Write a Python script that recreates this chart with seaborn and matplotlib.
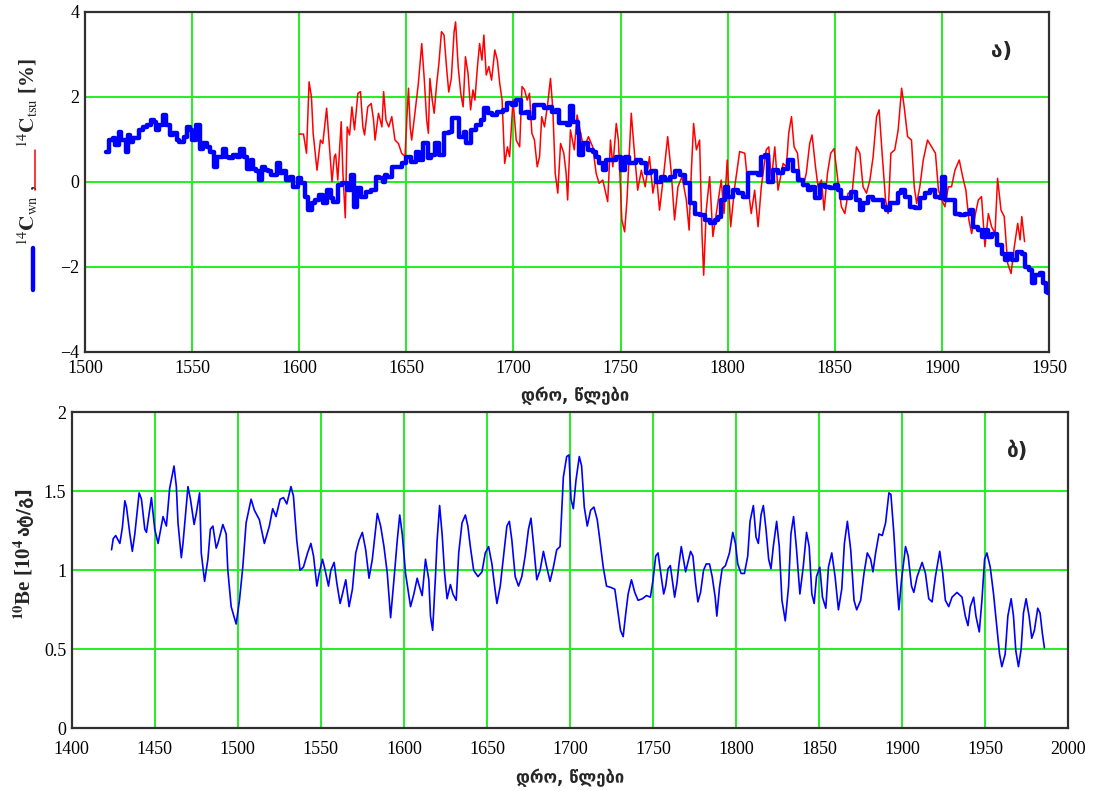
import numpy as np
import pandas as pd
import matplotlib
matplotlib.use("Agg")
import matplotlib.pyplot as plt
from matplotlib.lines import Line2D
import seaborn as sns

# ---------------- data ----------------
# Panel a) 14C wn (blue, thick)
wn_years = [1510, 1511, 1513, 1514, 1516, 1517, 1519, 1520, 1521, 1522.5, 1525, 1527, 1529, 1531,
            1532, 1533, 1534.5, 1536.5, 1537.6, 1539.6, 1541, 1543, 1544, 1546, 1547.4, 1549, 1550,
            1552, 1553.7, 1555, 1556.8, 1558.3, 1560, 1561.4, 1563, 1564.5, 1565.6, 1567, 1569,
            1570.8, 1572.3, 1574, 1575.4, 1577.4, 1578.5, 1580, 1581, 1582.4, 1584, 1585.5, 1587,
            1589.4, 1591, 1592.5, 1594, 1595.6, 1597, 1599.5, 1601, 1602.6, 1604, 1606, 1607.3,
            1609, 1611, 1612.8, 1615, 1616, 1618, 1620, 1622.5, 1624, 1625.7, 1627, 1629, 1631,
            1633.4, 1635.8, 1637.3, 1639, 1640, 1641, 1643.5, 1646, 1648, 1650, 1652, 1654.4,
            1655.7, 1658, 1660, 1661.4, 1663.5, 1665.3, 1667.7, 1670, 1671.5, 1673, 1674.7, 1677,
            1678, 1680, 1682.4, 1684.8, 1686.3, 1687.9, 1690, 1692.5, 1695, 1697, 1699.5, 1701,
            1703.4, 1706, 1707.3, 1709.6, 1712, 1714.3, 1716.6, 1718, 1719.8, 1721.3, 1723, 1725,
            1726.5, 1728, 1730, 1730.5, 1732.4, 1734.7, 1737, 1738.6, 1740, 1741.7, 1743.3, 1745.6,
            1748, 1750, 1752, 1754, 1757.3, 1759.7, 1762, 1764.3, 1766.7, 1769, 1770.6, 1773,
            1775.2, 1777.6, 1780, 1782.2, 1784.6, 1787, 1789.3, 1791.6, 1794, 1795.5, 1797, 1798.6,
            1800, 1802.5, 1804.8, 1807, 1809.5, 1812, 1814, 1815.7, 1817.3, 1818.8, 1821, 1823.5,
            1825.9, 1828.2, 1830.5, 1832.9, 1835.2, 1837.5, 1839, 1840.7, 1843, 1845.3, 1847.7,
            1850, 1851.6, 1853, 1855.5, 1857.8, 1860, 1861.7, 1863.2, 1865.6, 1868, 1870.2, 1872.6,
            1874, 1875.7, 1878, 1879.6, 1881, 1882.7, 1885, 1887.3, 1889.7, 1892, 1894.4, 1896.7,
            1899, 1900, 1901.4, 1903.7, 1906, 1908.4, 1910.7, 1913, 1914.6, 1917, 1918.5, 1920,
            1921.7, 1923.2, 1925.5, 1927.9, 1929.4, 1931, 1932.6, 1935, 1937.2, 1938.8, 1940.7,
            1942, 1943.5, 1945.8, 1947.4, 1948.5, 1949.3]
wn_values = [0.71, 0.98, 1.02, 0.86, 1.16, 0.98, 0.71, 1.10, 0.94, 1.02, 1.22, 1.29, 1.33, 1.45,
             1.41, 1.22, 1.33, 1.57, 1.33, 1.10, 1.14, 0.98, 0.94, 1.06, 1.29, 1.22, 0.98,
             1.33, 0.78, 0.90, 0.82, 0.71, 0.35, 0.59, 0.59, 0.78, 0.59, 0.55, 0.63,
             0.59, 0.78, 0.59, 0.31, 0.51, 0.31, 0.24, 0.04, 0.35, 0.27, 0.24, 0.16,
             0.43, 0.20, 0.24, 0.04, 0.12, -0.12, 0.08, -0.04, -0.35, -0.67, -0.51, -0.43,
             -0.31, -0.51, -0.20, -0.39, -0.47, -0.08, -0.04, -0.20, 0.16, -0.59, -0.16, -0.35, -0.24,
             -0.20, 0.12, 0.08, 0.0, 0.16, 0.12, 0.35, 0.35, 0.43, 0.59, 0.47, 0.71,
             0.51, 0.90, 0.55, 0.63, 0.90, 0.63, 1.14, 1.18, 1.49, 1.49, 1.06, 1.18,
             0.90, 1.22, 1.33, 1.45, 1.73, 1.61, 1.57, 1.65, 1.69, 1.84, 1.80, 1.92,
             1.61, 1.65, 1.49, 1.80, 1.80, 1.73, 1.76, 1.65, 1.69, 1.37, 1.37, 1.33,
             1.78, 1.40, 1.14, 0.63, 0.90, 0.75, 0.71, 0.59, 0.43, 0.27, 0.51, 0.51,
             0.59, 0.27, 0.59, 0.43, 0.51, 0.43, 0.20, 0.24, 0.0, 0.12, 0.04, 0.12,
             0.24, 0.16, -0.04, -0.51, -0.75, -0.78, -0.90, -0.98, -0.90, -0.82, -0.43, -0.12,
             -0.35, -0.20, -0.27, -0.35, 0.20, 0.20, 0.16, 0.59, 0.63, 0.0, 0.27, 0.20,
             0.31, 0.51, 0.24, 0.04, -0.08, -0.20, -0.12, -0.39, -0.08, -0.12, -0.16,
             -0.08, -0.20, -0.39, -0.39, -0.24, -0.43, -0.67, -0.51, -0.35, -0.43, -0.43, -0.59,
             -0.67, -0.51, -0.51, -0.27, -0.20, -0.35, -0.59, -0.63, -0.39, -0.27, -0.20, -0.35,
             -0.39, 0.12, -0.43, -0.43, -0.75, -0.78, -0.75, -0.67, -1.06, -1.14, -1.29, -1.14,
             -1.29, -1.22, -1.49, -1.69, -1.84, -1.69, -1.84, -1.65, -1.69, -2.00, -2.08,
             -2.39, -2.20, -2.16, -2.39, -2.59, -2.61]

# Panel a) 14C tsu (red, thin)
tsu_years = [1600, 1602, 1603.4, 1604.6, 1605.7, 1606.5, 1608.3, 1609.9, 1611, 1612.8, 1614,
             1615.3, 1616.4, 1617, 1618, 1619.6, 1620.4, 1621.5, 1622.4, 1623.5, 1624.6, 1625.8,
             1627.4, 1628.6, 1629.7, 1630.5, 1632, 1633.6, 1634.7, 1635.4, 1637, 1638.6, 1639.4,
             1640.5, 1641.8, 1643.2, 1644.7, 1646.3, 1647.8, 1649.4, 1650.2, 1651, 1651.8, 1652.5,
             1654, 1655.6, 1657.2, 1658.4, 1659.5, 1660.3, 1661, 1662.1, 1663, 1664.1, 1665.2,
             1666.4, 1667.6, 1668.7, 1669.8, 1671, 1672.3, 1673, 1674.2, 1675.4, 1676.5, 1677.6,
             1678.8, 1680, 1681.1, 1682, 1683.2, 1684.2, 1685.3, 1686.2, 1687.3, 1688.5, 1689.8,
             1691.3, 1692.5, 1693.6, 1694.7, 1695.9, 1697.2, 1698.2, 1699.8, 1701.3, 1702.9, 1704,
             1705.2, 1706.4, 1707.5, 1708.6, 1709.8, 1711.1, 1712.2, 1713.2, 1714.5, 1716, 1717.3,
             1718.4, 1719.5, 1720.7, 1722, 1723.5, 1724.6, 1725.3, 1726.6, 1728.4, 1729.7,
             1732, 1733.2, 1735, 1737, 1738.6, 1740, 1741.7, 1744, 1745.3, 1746.4, 1748, 1749,
             1750.6, 1751.9, 1753, 1755, 1756.5, 1758, 1759.7, 1761.5, 1763.5, 1765.1, 1766.7,
             1768.2, 1770.2, 1772, 1773.7, 1775.2, 1776.8, 1778.7, 1780.7, 1782, 1783, 1784.1,
             1785.4, 1786.9, 1788, 1788.8, 1790, 1791.6, 1793.1, 1794.7, 1797, 1798.3, 1799.8,
             1801.4, 1803.3, 1805.6, 1808, 1809.5, 1811, 1812.6, 1814.2, 1815.7, 1818, 1819.2,
             1820.4, 1822, 1823.5, 1825.9, 1827.4, 1828.5, 1829.8, 1831, 1832.6, 1833.6, 1835.2,
             1836.7, 1838.3, 1839.4, 1841, 1842.2, 1843.8, 1845, 1846.6, 1848.1, 1849.7, 1851.6,
             1853.1, 1854.7, 1856.2, 1858.1, 1860.1, 1861.7, 1863.2, 1864.8, 1866.4, 1867.9,
             1869.5, 1870.7, 1872.1, 1873.7, 1874.9, 1876.2, 1878, 1879.6, 1881.2, 1882.4, 1884,
             1885.8, 1887.1, 1888.2, 1889.7, 1891.3, 1893.3, 1895.2, 1897, 1898.4, 1899.9, 1901.4,
             1903, 1904.5, 1906.1, 1908.1, 1909.7, 1911.2, 1912.6, 1913.9, 1915.4, 1917, 1918.5,
             1920.1, 1921.7, 1923.2, 1924.8, 1926, 1927.6, 1929.1, 1930.7, 1932.3, 1933.8, 1935.4,
             1936.5, 1937.3, 1938.6]
tsu_values = [1.12, 1.12, 0.67, 2.35, 2.00, 1.14, 0.27, 0.98, 0.90, 1.73, 0.90,
              0.0, 0.59, 0.65, 0.04, 1.41, 0.19, -0.85, 1.29, 1.10, 1.76, 1.22,
              2.08, 2.12, 1.29, 1.10, 1.76, 1.84, 1.45, 0.98, 1.61, 1.29, 2.12,
              1.45, 1.29, 1.53, 0.98, 0.90, 0.67, 0.59, 1.45, 2.20, 1.29, 0.98,
              1.61, 2.31, 3.25, 2.39, 1.45, 1.14, 2.43, 1.92, 1.61, 2.27, 2.78,
              3.53, 3.45, 2.73, 2.11, 2.43, 3.53, 3.76, 2.71, 2.08, 1.76, 2.94,
              2.55, 1.69, 2.16, 1.92, 2.71, 3.25, 2.86, 3.45, 2.51, 2.71, 2.39,
              3.10, 2.86, 2.31, 1.92, 0.43, 0.82, 0.59, 1.92, 0.98, 0.82, 2.24,
              2.16, 1.92, 2.08, 1.14, 0.98, 0.35, 0.59, 1.53, 1.29, 1.84, 2.43,
              1.69, 0.20, -0.27, 0.90, 0.67, 0.20, -0.43, 1.22, 0.75, 1.57,
              0.98, 0.82, 1.06, 0.82, 0.20, -0.04, 0.04, -0.47, 0.98, 0.35, 1.37, 0.98,
              -0.90, -1.18, -0.43, 1.61, 0.67, -0.20, 0.27, -0.12, 0.59, -0.27, 0.20,
              -0.67, 0.20, 1.06, 0.20, -0.90, -0.12, 0.12, -0.43, -1.14, 0.20, 1.37,
              0.75, 0.98, -1.22, -2.20, -0.67, 0.12, -1.29, -0.75, 0.04, -0.75, 0.51,
              -1.06, -0.12, 0.71, 0.67, -0.12, -0.75, -0.20, -1.06, -0.12, 0.75, 0.82,
              0.04, 0.82, -0.20, 0.43, 0.35, 1.14, 1.53, 0.82, 0.67, 0.12, -0.12,
              0.20, 0.90, 1.10, 0.35, -0.12, 0.04, -0.67, 0.20, 0.67, 0.78, -0.04,
              -0.59, -0.75, -0.27, -0.27, 0.82, 0.67, -0.12, -0.27, 0.04, 0.59,
              1.53, 1.69, 0.67, -0.43, -0.75, 0.67, 0.75, 1.22, 2.20, 1.76, 1.06,
              0.98, -0.12, -0.51, -0.12, 0.51, 0.98, 0.82, 0.67, -0.20, -0.43, -0.59,
              -0.12, -0.12, 0.27, 0.51, 0.12, -0.20, -0.90, -1.22, -0.82, -0.43, -0.35,
              -1.53, -0.75, -1.06, -1.22, 0.08, -0.67, -0.82, -1.92, -2.16, -1.53, -0.98,
              -1.37, -0.82, -1.41]

# Panel b) 10Be (blue)
be_years = [1424, 1425, 1426.5, 1429, 1430.5, 1432, 1433, 1435, 1436.5, 1438, 1440.6, 1442, 1444,
            1445, 1448, 1450, 1452, 1455, 1457, 1459, 1461.6, 1463, 1464, 1466, 1467, 1470, 1471.5,
            1473.7, 1475, 1477, 1478, 1480, 1482, 1483.5, 1485, 1487, 1488, 1491, 1493, 1494, 1496,
            1499, 1501, 1503, 1505, 1508, 1510, 1513, 1516, 1519, 1521, 1523, 1525.5, 1527.5,
            1529.5, 1532, 1533.5, 1535.5, 1537.5, 1539.5, 1542, 1544, 1545.6, 1547.6, 1549, 1551,
            1552.6, 1554.6, 1556, 1558, 1559.6, 1561.6, 1563, 1565, 1567, 1569, 1571, 1573, 1575,
            1577, 1579, 1581, 1584, 1586, 1588, 1590, 1592, 1594, 1596, 1597.5, 1599, 1601, 1604,
            1606, 1608, 1609, 1611, 1613, 1615, 1616, 1617.3, 1619, 1620, 1621.5, 1623, 1624.5,
            1626, 1628, 1629.5, 1631.5, 1633, 1635, 1637, 1638.5, 1640, 1642, 1644.6, 1647, 1649,
            1651, 1653, 1654.6, 1656, 1658, 1660, 1662, 1663.5, 1665, 1667, 1669, 1671, 1673, 1675,
            1676.5, 1678, 1680, 1682, 1684, 1686, 1688, 1690, 1692, 1694, 1696, 1698, 1699.4,
            1700.6, 1702, 1703.6, 1705.6, 1707, 1708.6, 1710.4, 1712.4, 1714.4, 1716.4, 1718, 1720,
            1722, 1725, 1727, 1729, 1730.4, 1732, 1733.6, 1735, 1737, 1739, 1741, 1743.6, 1746,
            1748.4, 1750, 1751.6, 1753, 1754.4, 1756.4, 1757.6, 1759, 1760.4, 1761.6, 1763, 1764.4,
            1765.6, 1767, 1768, 1769.6, 1771, 1772.6, 1774, 1775.6, 1777, 1778.6, 1780.4, 1782,
            1784, 1785.6, 1787.4, 1788.4, 1790, 1791.6, 1793.6, 1796, 1798, 1799.6, 1801, 1803,
            1805, 1807, 1808.4, 1810.4, 1812, 1813.4, 1815, 1816.4, 1818, 1819.6, 1821, 1822.4,
            1824.4, 1826, 1827.6, 1829.6, 1831.6, 1833, 1834.6, 1836.4, 1838.4, 1840.4, 1842.4,
            1844, 1845.6, 1847, 1848.4, 1850.4, 1852, 1854, 1855.6, 1857.6, 1859.6, 1861.6, 1863.6,
            1865.2, 1867, 1869, 1871, 1872.6, 1875, 1877, 1879, 1881, 1882.4, 1884, 1886, 1888,
            1890, 1892, 1893.2, 1895, 1896.4, 1898, 1899.6, 1902, 1903.6, 1905.6, 1907, 1909, 1912,
            1914, 1916, 1918, 1920, 1922.6, 1924.4, 1926, 1928, 1930, 1933, 1936, 1938, 1939.6,
            1941, 1943, 1944.4, 1946.4, 1948, 1949.6, 1951, 1953, 1955, 1957, 1958.6, 1960, 1962,
            1963.6, 1965.6, 1967, 1968.4, 1970, 1971.6, 1973, 1974.6, 1976.4, 1978, 1979.6, 1981.6,
            1983, 1984.4, 1985.6]
be_values = [1.13, 1.20, 1.22, 1.17, 1.27, 1.44, 1.40, 1.23, 1.12, 1.23, 1.49, 1.45, 1.26,
             1.24, 1.46, 1.26, 1.17, 1.34, 1.28, 1.52, 1.66, 1.53, 1.30, 1.08, 1.17, 1.53, 1.45,
             1.29, 1.36, 1.49, 1.11, 0.93, 1.07, 1.26, 1.28, 1.14, 1.17, 1.29, 1.23, 1.00, 0.77,
             0.66, 0.81, 1.02, 1.30, 1.45, 1.38, 1.32, 1.17, 1.28, 1.39, 1.34, 1.45, 1.46,
             1.42, 1.53, 1.47, 1.19, 1.00, 1.02, 1.11, 1.17, 1.09, 0.90, 0.98, 1.07,
             1.00, 0.90, 1.00, 1.05, 0.92, 0.79, 0.85, 0.94, 0.77, 0.88, 1.11, 1.19, 1.24,
             1.13, 0.95, 1.07, 1.36, 1.28, 1.15, 0.98, 0.70, 0.94, 1.19, 1.35, 1.23, 0.98, 0.77,
             0.85, 0.95, 0.91, 0.84, 1.07, 0.94, 0.71, 0.62, 0.96, 1.19, 1.41, 1.23, 0.98,
             0.82, 0.91, 0.85, 0.81, 1.11, 1.30, 1.35, 1.28, 1.15, 1.00, 0.96, 0.99, 1.11,
             1.15, 1.04, 0.90, 0.79, 0.90, 1.09, 1.28, 1.31, 1.19, 0.96, 0.90, 0.96, 1.09, 1.26,
             1.33, 1.17, 0.94, 1.00, 1.12, 1.02, 0.93, 1.02, 1.13, 1.15, 1.59, 1.72, 1.73,
             1.45, 1.39, 1.57, 1.72, 1.66, 1.40, 1.28, 1.38, 1.40, 1.32, 1.19, 1.02,
             0.90, 0.89, 0.88, 0.73, 0.62, 0.58, 0.73, 0.85, 0.94, 0.86, 0.81, 0.82, 0.84,
             0.83, 0.94, 1.09, 1.11, 1.00, 0.85, 0.90, 1.01, 1.03, 0.94, 0.83, 0.92,
             1.04, 1.15, 1.09, 0.99, 1.05, 1.12, 1.09, 0.92, 0.80, 0.86, 1.00, 1.04,
             1.04, 0.96, 0.83, 0.71, 0.89, 1.01, 1.03, 1.11, 1.24, 1.17, 1.04, 0.98,
             0.98, 1.09, 1.31, 1.41, 1.21, 1.17, 1.35, 1.41, 1.26, 1.07, 1.01, 1.15,
             1.31, 1.15, 0.81, 0.68, 0.90, 1.23, 1.34, 1.13, 0.85, 1.02, 1.24,
             1.15, 0.85, 0.79, 0.96, 1.02, 0.83, 0.76, 1.02, 1.11, 0.96, 0.75, 0.88,
             1.17, 1.31, 1.13, 0.81, 0.75, 0.81, 0.98, 1.11, 1.07, 0.99, 1.11, 1.23, 1.22,
             1.30, 1.49, 1.48, 1.23, 0.98, 0.75, 0.94, 1.15, 1.09, 0.90, 0.86, 0.96, 1.05,
             0.98, 0.82, 0.80, 0.96, 1.12, 0.98, 0.81, 0.77, 0.83, 0.86, 0.83, 0.71, 0.65,
             0.77, 0.83, 0.71, 0.61, 0.81, 1.07, 1.11, 1.02, 0.85, 0.64, 0.47, 0.39, 0.47,
             0.71, 0.82, 0.71, 0.49, 0.39, 0.50, 0.73, 0.82, 0.71, 0.57, 0.62, 0.76,
             0.73, 0.60, 0.51]

top_xticks = [1500, 1550, 1600, 1650, 1700, 1750, 1800, 1850, 1900, 1950]
top_yticks = [-4, -2, 0, 2, 4]
bot_xticks = [1400, 1450, 1500, 1550, 1600, 1650, 1700, 1750, 1800, 1850, 1900, 1950, 2000]
bot_yticks = [0, 0.5, 1, 1.5, 2]
bot_yticklabels = ["0", "0.5", "1", "1.5", "2"]

xlabel_text = "დრო, წლები"
panel_a = "ა)"
panel_b = "ბ)"
be_label_math = r"$^{\mathbf{10}}$Be [10$^{\mathbf{4}}$"
be_label_geo = "ატ/გ]"

# ---------------- style ----------------
sns.set_theme(style="white")
plt.rcParams["font.family"] = ["Liberation Serif", "DejaVu Sans"]
plt.rcParams["mathtext.fontset"] = "stix"
plt.rcParams["axes.unicode_minus"] = True

W, H = 1097, 791
fig = plt.figure(figsize=(W / 100, H / 100), dpi=100)

def fx(px):
    return px / W

def fy(py):
    return 1 - py / H

ax1 = fig.add_axes([fx(85), fy(351.7), fx(1049) - fx(85), fy(11.7) - fy(351.7)])
ax2 = fig.add_axes([fx(71.7), fy(728.3), fx(1068.3) - fx(71.7), fy(412.3) - fy(728.3)])

GREEN = "#22ee22"
FRAME = "#303030"

def style_axes(ax, xticks, yticks, xlim, ylim, yticklabels=None, xpad=6):
    ax.set_xlim(*xlim)
    ax.set_ylim(*ylim)
    ax.set_xticks(xticks)
    ax.set_yticks(yticks)
    if yticklabels is not None:
        ax.set_yticklabels(yticklabels)
    ax.grid(True, color=GREEN, linewidth=1.4)
    ax.set_axisbelow(True)
    ax.tick_params(axis="both", length=0, labelsize=13, colors="black")
    ax.tick_params(axis="x", pad=xpad)
    ax.tick_params(axis="y", pad=4)
    for s in ax.spines.values():
        s.set_visible(True)
        s.set_color(FRAME)
        s.set_linewidth(1.6)
    ax.set_facecolor("white")
    ax.set_xlabel("")
    ax.set_ylabel("")

df_wn = pd.DataFrame({"year": wn_years, "value": wn_values})
df_tsu = pd.DataFrame({"year": tsu_years, "value": tsu_values})
df_be = pd.DataFrame({"year": be_years, "value": be_values})

sns.lineplot(data=df_tsu, x="year", y="value", ax=ax1, color="#ff0000", linewidth=1.1,
             estimator=None, sort=False, legend=False, zorder=3)
sns.lineplot(data=df_wn, x="year", y="value", ax=ax1, color="#0000ff", linewidth=3.2,
             estimator=None, sort=False, legend=False, drawstyle="steps-post", zorder=4)
sns.lineplot(data=df_be, x="year", y="value", ax=ax2, color="#0000ff", linewidth=1.2,
             estimator=None, sort=False, legend=False, zorder=3)

style_axes(ax1, top_xticks, top_yticks, (1500, 1950), (-4, 4))
style_axes(ax2, bot_xticks, bot_yticks, (1400, 2000), (0, 2), bot_yticklabels, xpad=9)

geo = ["DejaVu Sans"]
fig.text(fx(575), fy(396), xlabel_text, ha="center", va="center", fontsize=12,
         fontweight="bold", family=geo)
fig.text(fx(570), fy(778), xlabel_text, ha="center", va="center", fontsize=12,
         fontweight="bold", family=geo)
fig.text(fx(1002), fy(51), panel_a, ha="center", va="center", fontsize=15,
         fontweight="bold", family=geo)
fig.text(fx(1018), fy(451), panel_b, ha="center", va="center", fontsize=15,
         fontweight="bold", family=geo)

# composite y-label, panel a
fig.add_artist(Line2D([fx(33), fx(33)], [fy(290), fy(248)], color="#0000ff", linewidth=3.2,
                      transform=fig.transFigure))
fig.text(fx(28), fy(246), r"$^{14}\mathbf{C}_{\mathrm{wn}}$ ,", rotation=90, ha="center",
         va="bottom", fontsize=15)
fig.add_artist(Line2D([fx(35), fx(35)], [fy(190), fy(150)], color="#ff0000", linewidth=1.1,
                      transform=fig.transFigure))
fig.text(fx(28), fy(148), r"$^{14}\mathbf{C}_{\mathrm{tsu}}$ [%]", rotation=90, ha="center",
         va="bottom", fontsize=15, fontweight="bold")

# y-label, panel b (math part in serif, Georgian part in DejaVu Sans)
fig.canvas.draw()
t1 = fig.text(fx(24), fy(620), be_label_math, rotation=90, ha="center", va="bottom",
              fontsize=15, fontweight="bold", family=["Liberation Serif"])
fig.canvas.draw()
bb = t1.get_window_extent(renderer=fig.canvas.get_renderer())
top_px = bb.y1 / fig.dpi * 100  # pixels from bottom
fig.text(fx(24), (top_px + 3) / H, be_label_geo, rotation=90, ha="center", va="bottom",
         fontsize=13, fontweight="bold", family=geo)

fig.savefig("out.png", dpi=100, facecolor="white")
